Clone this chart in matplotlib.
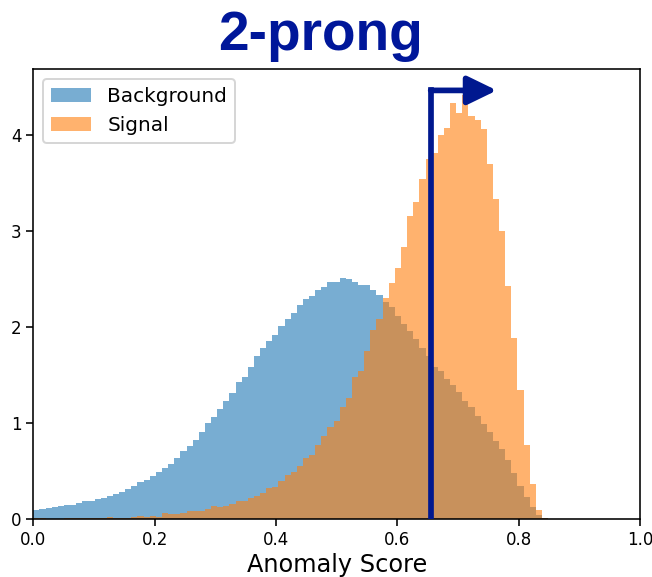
import numpy as np
import matplotlib
matplotlib.use("Agg")
import matplotlib.pyplot as plt


OUTPUT_FILE = "out.png"

# density per bin, 99 equal bins on [0, 1]; bins past index 83 are empty
BACKGROUND = [
    0.102, 0.109, 0.115, 0.126, 0.137, 0.147, 0.150, 0.171, 0.188, 0.190,
    0.212, 0.222, 0.246, 0.263, 0.290, 0.320, 0.345, 0.386, 0.412, 0.450,
    0.489, 0.538, 0.576, 0.640, 0.710, 0.765, 0.825, 0.913, 0.998, 1.065,
    1.152, 1.228, 1.315, 1.428, 1.477, 1.587, 1.695, 1.780, 1.855, 1.920,
    2.010, 2.080, 2.145, 2.230, 2.290, 2.320, 2.385, 2.420, 2.470, 2.470,
    2.510, 2.500, 2.470, 2.435, 2.435, 2.384, 2.333, 2.256, 2.210, 2.110,
    2.030, 1.960, 1.880, 1.780, 1.695, 1.590, 1.540, 1.457, 1.395, 1.320,
    1.230, 1.170, 1.080, 0.995, 0.910, 0.814, 0.729, 0.620, 0.483, 0.353,
    0.234, 0.131, 0.046, 0.012,
]

SIGNAL = [
    0.012, 0.012, 0.003, 0.003, 0.003, 0.012, 0.012, 0.012, 0.014, 0.014,
    0.016, 0.016, 0.022, 0.020, 0.016, 0.016, 0.022, 0.036, 0.028, 0.036,
    0.022, 0.063, 0.052, 0.062, 0.065, 0.090, 0.090, 0.092, 0.104, 0.138,
    0.125, 0.138, 0.166, 0.190, 0.193, 0.227, 0.240, 0.278, 0.322, 0.336,
    0.404, 0.466, 0.490, 0.551, 0.637, 0.667, 0.770, 0.865, 0.957, 1.026,
    1.166, 1.265, 1.480, 1.540, 1.754, 1.970, 2.080, 2.300, 2.455, 2.610,
    2.835, 3.150, 3.300, 3.536, 3.745, 3.810, 4.000, 4.066, 4.325, 4.230,
    4.410, 4.190, 4.155, 4.060, 3.700, 3.335, 3.000, 2.430, 1.887, 1.344,
    0.770, 0.370, 0.097, 0.019,
]

LABELS = ["Background", "Signal"]
TITLE = "2-prong"
XLABEL = "Anomaly Score"

# selection cut and arrow pointing to the kept region
CUT = 0.655
ARROW_Y = 4.46
ARROW_TIP = 0.764
CUT_COLOR = "#00188F"
TITLE_COLOR = "#00179A"


def main():
    edges = np.linspace(0, 1, 100)
    n_bins = len(BACKGROUND)
    centers = 0.5 * (edges[:-1] + edges[1:])[:n_bins]

    fig = plt.figure(figsize=(652 / 144, 577 / 144), dpi=144)
    ax = fig.add_axes([0.0511, 0.0997, 0.9305, 0.7808])

    ax.hist(centers, bins=edges, weights=BACKGROUND, alpha=0.6, label=LABELS[0])
    ax.hist(centers, bins=edges, weights=SIGNAL, alpha=0.6, label=LABELS[1])

    ax.set_xlim(0, 1)
    ax.tick_params(labelsize=8.3, length=3.5, pad=2.5)
    ax.set_xlabel(XLABEL, fontsize=12, labelpad=2)
    ax.legend(loc="upper left")

    # -------------------------
    # cut line with arrow
    # -------------------------
    ax.plot([CUT, CUT], [0, ARROW_Y], color=CUT_COLOR, lw=2.85,
            solid_capstyle="projecting", zorder=5)
    ax.annotate("", xy=(ARROW_TIP, ARROW_Y), xytext=(CUT, ARROW_Y),
                arrowprops=dict(arrowstyle="-|>,head_length=1.235,head_width=0.6",
                                mutation_scale=10, lw=2.85, color=CUT_COLOR,
                                shrinkA=0, shrinkB=0),
                zorder=6)

    fig.text(0.4916, 1 - 50 / 577, TITLE, ha="center", va="baseline",
             fontsize=27.5, fontweight="bold", family="Liberation Sans",
             color=TITLE_COLOR)

    fig.savefig(OUTPUT_FILE, dpi=144)
    plt.close(fig)


if __name__ == "__main__":
    main()
